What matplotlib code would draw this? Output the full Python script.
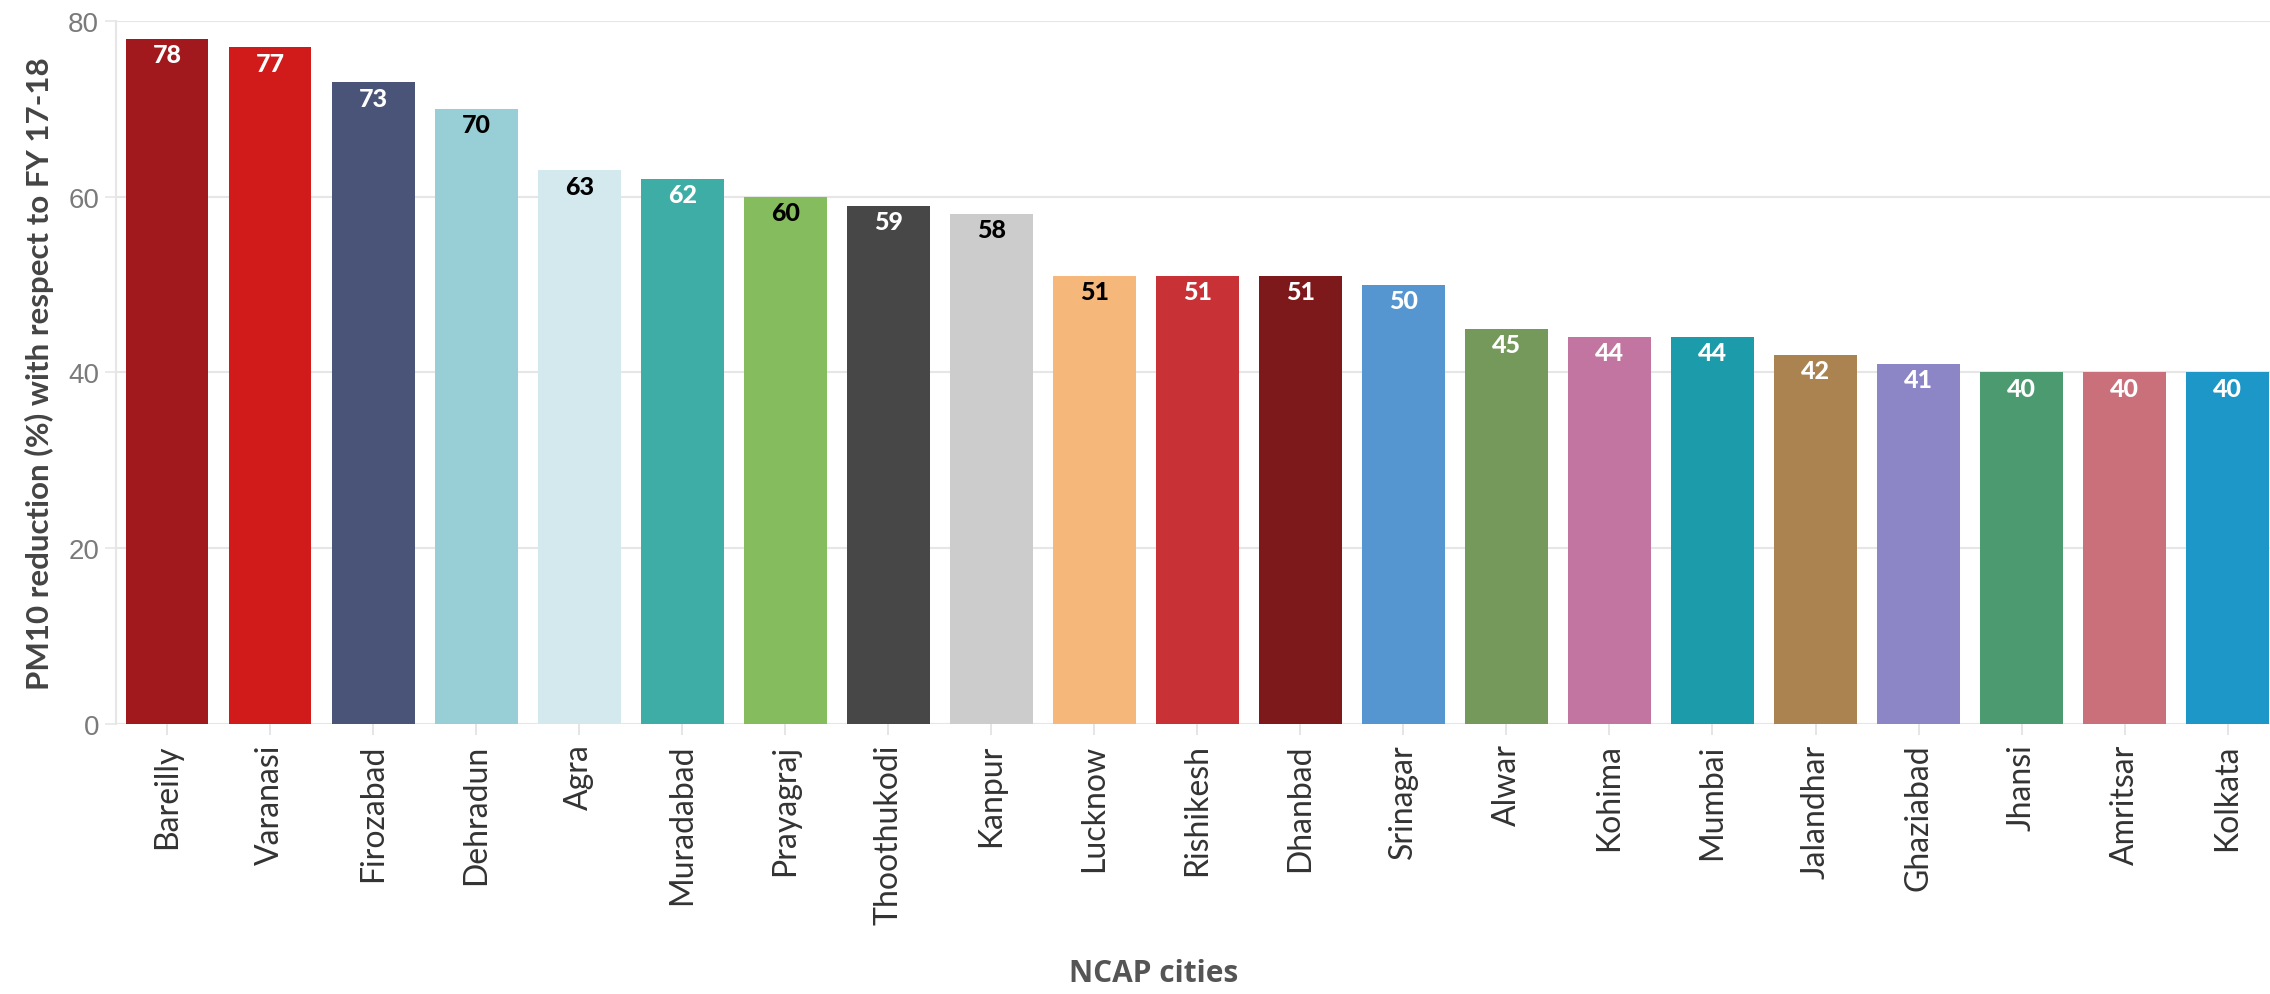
import matplotlib
matplotlib.use("Agg")
import matplotlib.pyplot as plt

cities = ["Bareilly", "Varanasi", "Firozabad", "Dehradun", "Agra", "Muradabad",
          "Prayagraj", "Thoothukodi", "Kanpur", "Lucknow", "Rishikesh", "Dhanbad",
          "Srinagar", "Alwar", "Kohima", "Mumbai", "Jalandhar", "Ghaziabad",
          "Jhansi", "Amritsar", "Kolkata"]
reduction = [78, 77, 73, 70, 63, 62, 60, 59, 58, 51, 51, 51, 50, 45, 44, 44, 42, 41, 40, 40, 40]
bar_colors = ["#A2191D", "#D11A1A", "#4A5378", "#98CED6", "#D3E9ED", "#3EADA5",
              "#84BC5E", "#474747", "#CCCCCC", "#F5B77A", "#C83236", "#7E191B",
              "#5596D0", "#74995A", "#C175A0", "#1C9CAA", "#AA8350", "#8C85C6",
              "#4B9A70", "#C9707A", "#1D97C8"]
dark_labels = ["Dehradun", "Agra", "Prayagraj", "Kanpur", "Lucknow"]

fig = plt.figure(figsize=(22.7, 9.95), dpi=100)
ax = fig.add_axes([0.051, 0.2714, 0.953, 0.7065])

x = range(len(cities))
bars = ax.bar(x, reduction, width=0.8, color=bar_colors, zorder=2)

for b, city, v in zip(bars, cities, reduction):
    col = "black" if city in dark_labels else "white"
    ax.annotate(str(v), (b.get_x() + b.get_width() / 2, v), xytext=(0, -3),
                textcoords="offset points", ha="center", va="top",
                fontsize=18, fontweight="black", color=col, family="Lato", zorder=3)

ax.set_xlim(-0.5, len(cities) - 0.5)
ax.set_ylim(0, 80)
ax.set_yticks([0, 20, 40, 60, 80])
ax.yaxis.grid(True, color="#E6E6E6", linewidth=1.5, zorder=0)
ax.set_axisbelow(True)

ax.set_xticks(list(x))
ax.set_xticklabels(cities, rotation=90, fontsize=23, color="#333333", family="Lato")
ax.tick_params(axis="y", labelsize=20, labelcolor="#7A7A7A", color="#E6E6E6",
               length=8, width=1.2, pad=4)
ax.tick_params(axis="x", color="#E0E0E0", length=8, width=1.2, pad=6)
for lbl in ax.get_yticklabels():
    lbl.set_family("Liberation Sans")

for s in ["top", "right", "bottom"]:
    ax.spines[s].set_visible(False)
ax.spines["left"].set_color("#E6E6E6")
ax.spines["left"].set_linewidth(1.5)

ax.set_ylabel("PM10 reduction (%) with respect to FY 17-18", fontsize=22.5,
              fontweight="bold", color="#444444", family="Lato", labelpad=10)
fig.text(0.508, 0.021, "NCAP cities", ha="center", va="center", fontsize=21.5,
         fontweight="bold", color="#555555", family="Open Sans")

fig.savefig("out.png", dpi=100, facecolor="white")
